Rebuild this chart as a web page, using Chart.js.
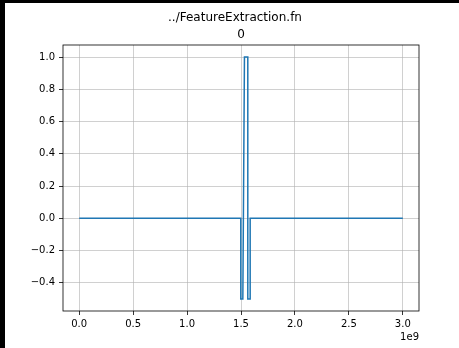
<!DOCTYPE html>
<html>
<head>
<meta charset="utf-8">
<script src="https://cdn.jsdelivr.net/npm/chart.js@4/dist/chart.umd.min.js"></script>
<style>
  html, body { margin: 0; padding: 0; background: #000; }
  #wrap { position: absolute; left: 5px; top: 3px; width: 454px; height: 345px; background: #fff; }
  canvas { display: block; }
</style>
</head>
<body>
<div id="wrap"><canvas id="c" width="454" height="345"></canvas></div>
<script>
// Signal samples: flat zero with a single pulse around 1.5e9
const xValues = [0, 1.498e9, 1.498e9, 1.517e9, 1.532e9, 1.563e9, 1.563e9, 1.585e9, 1.585e9, 3.0e9];
const yValues = [0, 0, -0.5, -0.5, 1.0, 1.0, -0.5, -0.5, 0, 0];

const xTicks = [0, 0.5e9, 1.0e9, 1.5e9, 2.0e9, 2.5e9, 3.0e9];
const yTicks = [-0.4, -0.2, 0.0, 0.2, 0.4, 0.6, 0.8, 1.0];

const figTitle = '../FeatureExtraction.fn';
const axTitle = '0';
const xOffsetText = '1e9';

const FONT = 'DejaVu Sans';
const points = xValues.map((x, i) => ({ x: x, y: yValues[i] }));

function fmt(v) {
  const s = v.toFixed(1);
  return s.startsWith('-') ? '\u2212' + s.slice(1) : s;
}

const decorations = {
  id: 'decorations',
  afterDraw(chart) {
    const ctx = chart.ctx;
    const a = chart.chartArea;
    ctx.save();
    // axes frame
    ctx.strokeStyle = '#000';
    ctx.lineWidth = 0.8;
    ctx.strokeRect(a.left, a.top, a.right - a.left, a.bottom - a.top);
    // titles
    ctx.fillStyle = '#000';
    ctx.font = '12px "' + FONT + '"';
    ctx.textAlign = 'center';
    ctx.textBaseline = 'alphabetic';
    ctx.fillText(figTitle, 230, 18);
    ctx.fillText(axTitle, (a.left + a.right) / 2, 34.5);
    // x-axis scale factor
    ctx.font = '10px "' + FONT + '"';
    ctx.textAlign = 'right';
    ctx.fillText(xOffsetText, a.right, 337);
    ctx.restore();
  }
};

new Chart(document.getElementById('c'), {
  type: 'scatter',
  data: {
    datasets: [{
      data: points,
      showLine: true,
      borderColor: '#1f77b4',
      borderWidth: 1.5,
      pointRadius: 0,
      fill: false,
      tension: 0
    }]
  },
  options: {
    responsive: false,
    animation: false,
    layout: { padding: { left: 0, right: 40, top: 42, bottom: 0 } },
    plugins: { legend: { display: false }, tooltip: { enabled: false }, title: { display: false } },
    scales: {
      x: {
        type: 'linear',
        min: -0.15e9,
        max: 3.15e9,
        afterBuildTicks(scale) { scale.ticks = xTicks.map(v => ({ value: v })); },
        afterFit(scale) { scale.height = 37; },
        grid: { color: 'rgba(176,176,176,0.75)', lineWidth: 0.8, tickLength: 4, tickColor: '#000', tickWidth: 0.8 },
        border: { display: false },
        ticks: {
          autoSkip: false, maxRotation: 0, padding: 3, color: '#000',
          font: { family: FONT, size: 10 },
          callback: v => fmt(v / 1e9)
        }
      },
      y: {
        type: 'linear',
        min: -0.575,
        max: 1.075,
        afterBuildTicks(scale) { scale.ticks = yTicks.map(v => ({ value: v })); },
        afterFit(scale) { scale.width = 58; },
        grid: { color: 'rgba(176,176,176,0.75)', lineWidth: 0.8, tickLength: 4, tickColor: '#000', tickWidth: 0.8 },
        border: { display: false },
        ticks: {
          autoSkip: false, padding: 4, color: '#000',
          font: { family: FONT, size: 10 },
          callback: v => fmt(v)
        }
      }
    }
  },
  plugins: [decorations]
});
</script>
</body>
</html>
